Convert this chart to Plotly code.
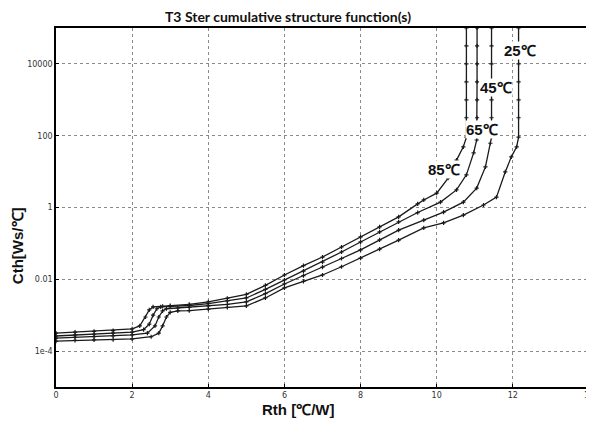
import numpy as np
import plotly.graph_objects as go

# Readings: Rth [°C/W] and log10(Cth [Ws/°C])
rth_85 = [0, 0.5, 1.0, 1.5, 2.0, 2.2, 2.35, 2.45, 2.55, 2.8, 3.0, 3.5, 4.0, 4.5, 5.0, 5.5, 6.0, 6.5, 7.0, 7.5, 8.0, 8.5, 9.0, 9.5, 9.66, 10.0, 10.3, 10.52, 10.7, 10.78, 10.78, 10.78, 10.78, 10.78, 10.78, 10.78]
lgc_85 = [-3.50, -3.47, -3.45, -3.43, -3.38, -3.30, -3.05, -2.85, -2.77, -2.75, -2.73, -2.70, -2.63, -2.53, -2.42, -2.17, -1.88, -1.62, -1.38, -1.10, -0.82, -0.54, -0.26, 0.10, 0.21, 0.40, 0.82, 1.32, 1.69, 1.96, 2.5, 3.0, 3.5, 4.0, 4.5, 5.0]

rth_65 = [0, 0.5, 1.0, 1.5, 2.0, 2.3, 2.45, 2.55, 2.65, 2.75, 3.0, 3.5, 4.0, 4.5, 5.0, 5.5, 6.0, 6.5, 7.0, 7.5, 8.0, 8.5, 9.0, 9.5, 10.1, 10.52, 10.78, 10.97, 11.05, 11.06, 11.06, 11.06, 11.06, 11.06, 11.06]
lgc_65 = [-3.58, -3.55, -3.53, -3.50, -3.47, -3.40, -3.25, -3.00, -2.82, -2.77, -2.76, -2.73, -2.68, -2.60, -2.52, -2.28, -2.02, -1.77, -1.52, -1.24, -0.96, -0.68, -0.40, -0.14, 0.15, 0.49, 0.91, 1.52, 1.88, 2.5, 3.0, 3.5, 4.0, 4.5, 5.0]

rth_45 = [0, 0.5, 1.0, 1.5, 2.0, 2.4, 2.6, 2.7, 2.8, 2.9, 3.2, 3.5, 4.0, 4.5, 5.0, 5.5, 6.0, 6.5, 7.0, 7.5, 8.0, 8.5, 9.0, 9.66, 10.18, 10.7, 11.05, 11.28, 11.41, 11.44, 11.44, 11.44, 11.44, 11.44, 11.44, 11.44]
lgc_45 = [-3.64, -3.62, -3.60, -3.58, -3.55, -3.50, -3.30, -3.05, -2.88, -2.82, -2.80, -2.78, -2.74, -2.70, -2.63, -2.40, -2.13, -1.90, -1.66, -1.42, -1.18, -0.90, -0.63, -0.35, -0.13, 0.15, 0.54, 1.13, 1.79, 1.96, 2.5, 3.0, 3.5, 4.0, 4.5, 5.0]

rth_25 = [0, 0.5, 1.0, 1.5, 2.0, 2.5, 2.7, 2.8, 2.9, 3.0, 3.2, 3.5, 4.0, 4.5, 5.0, 5.5, 6.0, 6.5, 7.0, 7.5, 8.0, 8.5, 9.0, 9.66, 10.18, 10.7, 11.23, 11.57, 11.8, 11.96, 12.1, 12.15, 12.15, 12.15, 12.15, 12.15, 12.15, 12.15]
lgc_25 = [-3.72, -3.70, -3.69, -3.68, -3.66, -3.60, -3.50, -3.30, -3.05, -2.92, -2.88, -2.87, -2.83, -2.78, -2.74, -2.52, -2.24, -2.06, -1.88, -1.65, -1.41, -1.16, -0.91, -0.57, -0.43, -0.21, 0.07, 0.29, 0.99, 1.41, 1.69, 1.96, 2.5, 3.0, 3.5, 4.0, 4.5, 5.0]

series_names = ["85℃", "65℃", "45℃", "25℃"]
label_x = [10.2, 11.18, 11.55, 12.2]
label_lg = [1.07, 2.16, 3.33, 4.36]

y_tickvals = [1e-4, 1e-2, 1, 100, 1e4]
y_ticktext = ["1e-4", "0.01", "1", "100", "10000"]
x_tickvals = [0, 2, 4, 6, 8, 10, 12, 14]

fig = go.Figure()
for name, xs, lg in zip(series_names,
                        [rth_85, rth_65, rth_45, rth_25],
                        [lgc_85, lgc_65, lgc_45, lgc_25]):
    fig.add_trace(go.Scatter(
        x=xs, y=np.power(10.0, np.array(lg)), name=name,
        mode="lines+markers",
        line=dict(color="#1a1a1a", width=1.3),
        marker=dict(symbol="cross-thin", size=3, color="#1a1a1a",
                    line=dict(color="#1a1a1a", width=1.2)),
        showlegend=False, cliponaxis=True))

for name, lx, ly in zip(series_names, label_x, label_lg):
    fig.add_annotation(x=lx, y=ly, xref="x", yref="y", text="<b>%s</b>" % name,
                       showarrow=False, bgcolor="white", borderpad=0,
                       font=dict(family="Liberation Sans Narrow, Arial Narrow, Liberation Sans, Arial",
                                 size=15, color="#111111"))

grid = dict(showgrid=True, gridcolor="#8a8a8a", gridwidth=1, griddash="dot",
            showline=True, linecolor="#000000", linewidth=1.5, mirror=True,
            ticks="inside", ticklen=3, tickcolor="#000000", zeroline=False,
            tickfont=dict(family="DejaVu Sans", size=8, color="#333333"))

fig.update_xaxes(range=[0, 14], tickvals=x_tickvals, **grid)
fig.update_yaxes(type="log", range=[-5, 5], tickvals=y_tickvals, ticktext=y_ticktext, **grid)

# The page body adds an 8 px offset, so the figure is 8 px smaller and shifted.
W, H = 586, 417
ml, mr, mt, mb = 48, 3, 20, 38
plot_w = W - ml - mr
plot_h = H - mt - mb

fig.update_layout(
    width=W, height=H,
    margin=dict(l=ml, r=mr, t=mt, b=mb),
    paper_bgcolor="white", plot_bgcolor="white",
    title=dict(text="<b>T3 Ster cumulative structure function(s)</b>",
               x=280 / W, xanchor="center", y=1 - 9 / H, yanchor="middle",
               font=dict(family="Lato, Open Sans, sans-serif", size=14, color="#111111")),
)

# "14" tick label at the right edge (partially cut off in the reference)
fig.add_annotation(x=1.0, y=-(395 - 387) / plot_h, xref="paper", yref="paper", text="14",
                   showarrow=False, xanchor="center", yanchor="middle",
                   font=dict(family="DejaVu Sans", size=8, color="#333333"))
# Axis titles placed as paper annotations (off-center like the reference)
fig.add_annotation(x=(299 - 56) / plot_w, y=-(409 - 387) / plot_h, xref="paper", yref="paper",
                   text="<b>Rth [℃/W]</b>", showarrow=False, xanchor="center", yanchor="middle",
                   font=dict(family="Liberation Sans Narrow, Arial Narrow, Liberation Sans", size=15, color="#111111"))
fig.add_annotation(x=-(56 - 18) / plot_w, y=(387 - 246) / plot_h, xref="paper", yref="paper",
                   text="<b>Cth[Ws/℃]</b>", showarrow=False, textangle=-90, xanchor="center", yanchor="middle",
                   font=dict(family="Liberation Sans Narrow, Arial Narrow, Liberation Sans", size=15, color="#111111"))

fig.write_html("out.html")
